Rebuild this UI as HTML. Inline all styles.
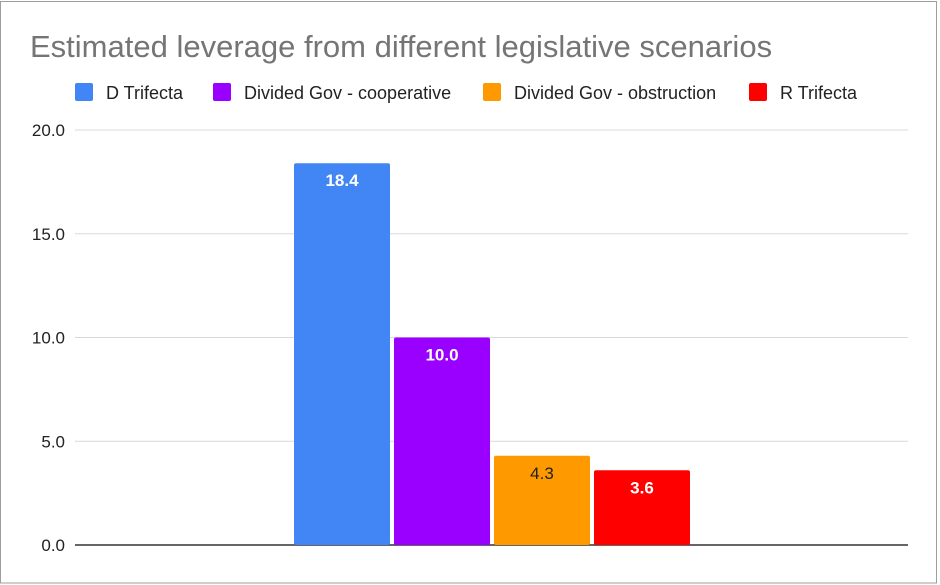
<!DOCTYPE html>
<html><head><meta charset="utf-8"><style>
body{margin:0;background:#fff;font-family:"Liberation Sans",Arial,sans-serif}
svg{display:block}
</style></head><body>
<svg width="940" height="585">
<rect x="0.5" y="1.5" width="936" height="581.5" fill="#fff" stroke="#9e9e9e"/>
<text x="30" y="57" font-size="31" fill="#757575">Estimated leverage from different legislative scenarios</text>
<g id="legend"></g>
<g id="grid"></g>
<g id="bars"></g>
</svg>
<script>
const categories=["D Trifecta","Divided Gov - cooperative","Divided Gov - obstruction","R Trifecta"];
const values=[18.4,10.0,4.3,3.6];
const labels=["18.4","10.0","4.3","3.6"];
const colors=["#4285f4","#9900ff","#ff9900","#ff0000"];
const labelColors=["#fff","#fff","#222","#fff"];
const ticks=[0,5,10,15,20];
const tickLabels=["0.0","5.0","10.0","15.0","20.0"];
const NS="http://www.w3.org/2000/svg";
function mk(t,a,p){const e=document.createElementNS(NS,t);for(const k in a)e.setAttribute(k,a[k]);p.appendChild(e);return e;}
const y0=545,yTop=130,yMax=20;
function y(v){return y0-(v/yMax)*(y0-yTop);}
const barX0=294,barW=96,gap=4;
function x(i){return barX0+i*(barW+gap);}
const grid=document.getElementById('grid');
ticks.forEach((t,i)=>{
 const l=mk('line',{x1:75,x2:908,y1:y(t),y2:y(t),stroke:t===0?'#333':'#d9d9d9','stroke-width':t===0?1.5:1},grid);
 
 
 const tx=mk('text',{x:65,y:y(t)+6,'text-anchor':'end','font-size':17,fill:'#222'},grid);
 tx.textContent=tickLabels[i];
 
 
});
const bars=document.getElementById('bars');
values.forEach((v,i)=>{
 const r=mk('rect',{x:x(i),y:y(v),width:barW,height:y0-y(v),fill:colors[i],rx:2},bars);
 
 
 const t=mk('text',{x:x(i)+barW/2,y:y(v)+23,'text-anchor':'middle','font-size':17,'font-weight':(i===2?'normal':'bold'),fill:labelColors[i]},bars);
 t.textContent=labels[i];
 
 
});
const lg=document.getElementById('legend');
const lx=[75,213,483,749];
categories.forEach((c,i)=>{
 const r=mk('rect',{x:lx[i],y:83,width:18,height:18,rx:2,fill:colors[i]},lg);
 
 
 const t=mk('text',{x:lx[i]+31,y:99,'font-size':18,fill:'#222'},lg);
 t.textContent=c;
 
 
});
</script>
</body></html>
